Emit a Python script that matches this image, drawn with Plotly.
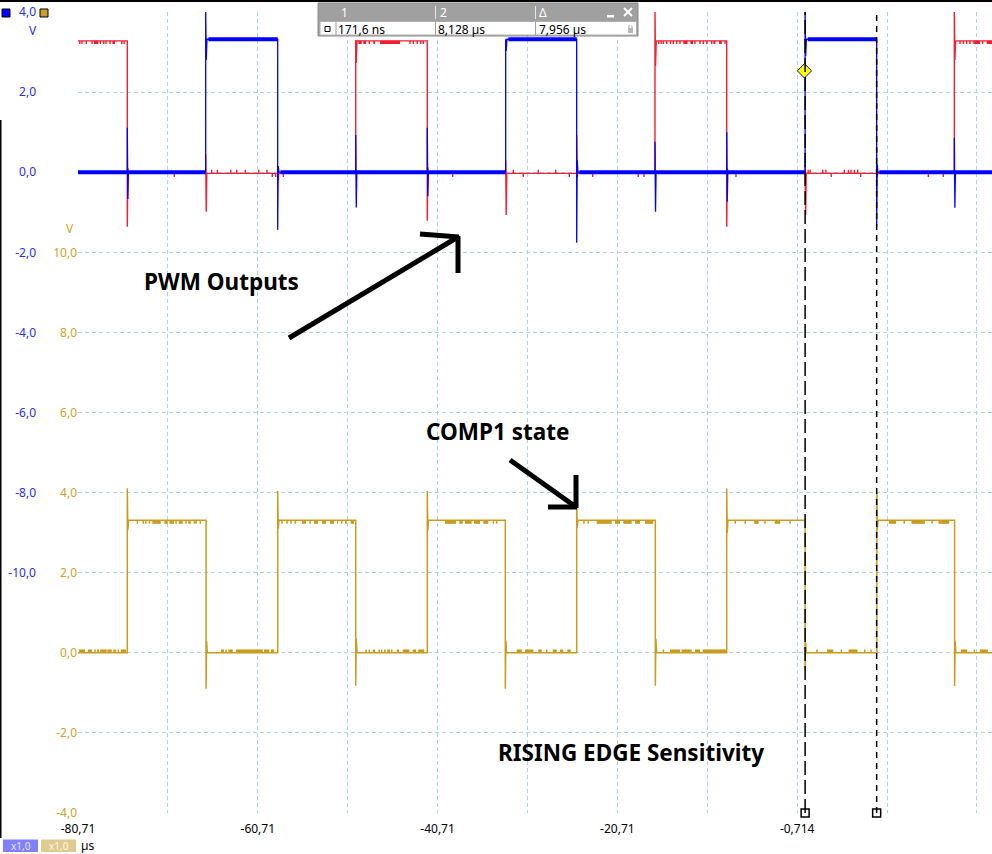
import plotly.graph_objects as go

# ---------------- data (time in µs, voltage in V) ----------------
X_MIN, X_MAX = -80.714, 20.96
X_GRID = [-80.714, -70.714, -60.714, -50.714, -40.714, -30.714, -20.714, -10.714, -0.714, 9.286, 19.286]
X_TEXT = ["-80,71", "", "-60,71", "", "-40,71", "", "-20,71", "", "-0,714", "", "19,29"]

A_TICKS = [4, 2, 0, -2, -4, -6, -8, -10, -12, -14, -16]
A_TEXT = ["4,0", "2,0", "0,0", "-2,0", "-4,0", "-6,0", "-8,0", "-10,0", "", "", ""]
D_TICKS = [10, 8, 6, 4, 2, 0, -2, -4]
D_TEXT = ["10,0", "8,0", "6,0", "4,0", "2,0", "0,0", "-2,0", "-4,0"]

# Channel A (blue PWM)
BLUE_LEVELS = [0.0, 3.32]
BLUE_EDGE_T = [-66.51, -58.50, -33.14, -25.24, 0.17, 8.13]
BLUE_EDGE_PEAK = [4.0, -1.44, 3.32, -1.76, 4.0, -1.36]
BLUE_EDGE_RING = [2.80, 0.15, 3.03, 0.30, 2.90, 0.20]
BLUE_XT_T = [-75.23, -49.82, -41.86, -16.53, -8.55, 16.77]
BLUE_XT_HI = [1.11, 0.93, 1.11, 0.76, 1.00, 0.86]
BLUE_XT_LO = [-0.67, -0.88, -0.60, -0.99, -0.74, -0.89]

# Channel B (red PWM)
RED_LEVELS = [-0.03, 3.28]
RED_EDGE_T = [-75.23, -49.82, -41.86, -16.53, -8.55, 16.77]
RED_EDGE_PEAK = [-1.36, 3.30, -1.21, 4.0, -1.36, 4.0]
RED_EDGE_RING = [0.10, 2.73, 0.12, 2.65, 0.10, 2.80]
RED_XT_T = [-66.51, -58.50, -33.14, -25.24, 0.17, 8.13]
RED_XT_HI = [0.45, 0.10, 0.30, 0.93, 0.15, 0.10]
RED_XT_LO = [-0.99, -0.20, -1.07, -0.12, -1.07, -0.12]
RED_GL_A = [-80.52, -80.27, -79.79, -79.15, -78.96, -78.23, -77.85, -77.60, -77.15, -76.89, -75.85, -75.59,
            -49.53, -48.98, -48.31, -47.86, -47.12, -43.78, -43.41, -42.97, -42.59, -42.30,
            -16.10, -15.85, -15.60, -15.23, -14.80, -14.49, -14.11, -13.75, -13.38, -12.60, -12.08,
            -11.52, -11.15, -10.77, -10.22, -10.04, -9.40, -8.74,
            17.40, 17.77, 18.14, 18.51, 18.88, 19.92, 20.37]
RED_GL_B = [-80.52, -80.27, -79.79, -79.15, -78.45, -78.23, -77.85, -77.60, -77.15, -76.59, -75.85, -75.59,
            -49.15, -48.67, -48.31, -47.67, -44.89, -43.78, -43.41, -42.97, -42.59, -42.30,
            -16.10, -15.85, -15.60, -15.23, -14.80, -14.49, -14.11, -13.75, -12.90, -12.30, -12.08,
            -11.52, -11.15, -10.77, -10.22, -9.80, -9.10, -8.74,
            17.40, 17.77, 18.14, 18.51, 19.62, 19.92, 20.96]
RED_TICK_T = [-70.00, -65.84, -65.21, -63.72, -63.06, -62.10, -60.61, -59.69, -59.10, -58.72, -57.87,
              -39.03, -32.29, -31.18, -29.51, -27.57, -26.06, -23.46, -18.39, -17.75, -7.52,
              0.51, 0.73, 2.13, 2.49, 3.08, 4.53, 4.98, 5.28, 5.65, 6.02, 6.35, 13.88, 15.54]
RED_TICK_V = [-0.12, 0.06, 0.06, 0.06, 0.06, 0.06, 0.06, 0.06, -0.12, -0.12, -0.12,
              -0.12, 0.06, -0.12, 0.06, 0.06, -0.12, -0.12, -0.12, -0.12, -0.12,
              0.06, 0.06, 0.06, 0.06, -0.12, 0.06, 0.06, 0.06, 0.06, 0.06, -0.12, -0.12, -0.12]

# Channel D (gold, COMP1 state)
GOLD_LEVELS = [0.0, 3.31]
GOLD_EDGE_T = [-75.23, -66.47, -58.50, -49.82, -41.86, -33.18, -25.24, -16.49, -8.55, 0.17, 8.15, 16.80]
GOLD_EDGE_PEAK = [4.11, -0.90, 4.04, -0.82, 4.04, -0.90, 3.75, -0.82, 4.10, -0.45, 4.05, -0.83]
GOLD_EDGE_RING = [3.06, 0.30, 3.10, 0.35, 3.05, 0.30, 3.13, 0.35, 3.00, 0.25, 3.08, 0.30]
GOLD_GL_A = [-80.60, -79.60, -78.82, -78.60, -78.26, -77.45, -76.78, -76.23, -75.96,
             -74.11, -73.45, -73.18, -72.78, -72.45, -71.11, -70.55, -69.81, -69.51, -68.70, -68.44, -67.77, -67.58, -67.11,
             -64.80, -64.25, -63.99, -63.13, -60.02, -59.27,
             -58.02, -57.46, -57.02, -56.54, -55.79, -54.90, -54.46, -53.57, -52.68, -51.90, -51.38, -51.01, -50.38,
             -48.67, -48.31, -47.93, -47.20, -46.93, -46.67, -46.31, -45.82, -45.26, -44.59, -43.48, -42.86,
             -39.89, -38.30, -37.66, -36.66, -35.63, -34.51, -34.14,
             -31.91, -30.99, -29.51, -28.57, -27.91, -27.09, -26.28,
             -24.43, -23.95, -23.01, -20.98, -20.05, -18.75, -17.64,
             -15.60, -14.86, -13.56, -12.08, -11.22,
             -7.60, -6.50, -5.50, -4.30, -3.20, -1.50,
             1.50, 2.60, 4.20, 5.00, 6.80, 7.50,
             9.50, 11.20, 12.00, 14.30, 15.00,
             17.50, 19.00, 19.60]
GOLD_GL_B = [-79.93, -79.15, -78.82, -78.37, -77.52, -76.96, -76.48, -76.23, -75.37,
             -74.11, -73.45, -73.18, -72.78, -71.51, -70.73, -70.03, -69.81, -69.06, -68.70, -68.17, -67.77, -67.58, -67.11,
             -64.47, -64.25, -63.50, -60.16, -59.43, -58.91,
             -58.02, -57.46, -57.02, -56.54, -55.35, -54.90, -54.01, -53.12, -52.23, -51.79, -51.38, -50.82, -50.01,
             -48.67, -48.31, -47.67, -47.20, -46.93, -46.48, -46.01, -45.82, -45.00, -43.86, -43.11, -42.19,
             -38.66, -37.92, -36.92, -35.99, -35.07, -34.51, -34.14,
             -31.35, -30.06, -29.13, -28.57, -27.46, -26.73, -25.90,
             -24.43, -23.95, -21.34, -20.42, -19.12, -18.20, -16.72,
             -15.60, -13.75, -12.45, -11.52, -8.63,
             -7.60, -6.50, -5.00, -4.30, -2.60, -1.50,
             1.50, 3.30, 4.20, 6.00, 6.80, 7.50,
             10.30, 11.20, 13.50, 14.30, 16.20,
             18.20, 19.00, 20.50]

CURSOR_T = [0.1716, 8.128]
TRIGGER_T, TRIGGER_V = 0.10, 2.53
CURSOR_TEXT = ["171,6 ns", "8,128 µs", "7,956 µs"]

# ---------------- style ----------------
W, H = 992, 854
PLOT_L, PLOT_T, PLOT_B = 78, 12, 813
FONT = "Noto Sans"
BLUE = "#0000ff"
RED = "#f41e32"
GOLD = "#c99c20"
BLUE_TXT = "#2a2aff"
GOLD_TXT = "#d2a028"
GRID = "#a8d6e4"


def waveform(levels, state0, edge_t, peak, ring, xt_t, xt_hi, xt_lo,
             gl_a, gl_b, gl_d, tick_t=(), tick_v=()):
    """Polyline of a channel plus a separate list of dense-noise bands."""
    ev = []
    for i, t in enumerate(edge_t):
        ev.append((t, 0, i))
    for i, t in enumerate(xt_t):
        ev.append((t, 1, i))
    for i, t in enumerate(gl_a):
        ev.append((t, 2, i))
    for i, t in enumerate(tick_t):
        ev.append((t, 3, i))
    ev.sort()
    state = state0
    cur = levels[state]
    xs, ys = [X_MIN], [cur]
    bxs, bys = [], []
    for t, kind, i in ev:
        if kind == 0:
            state = 1 - state
            new = levels[state]
            xs += [t, t, t + 0.06, t + 0.14]
            ys += [cur, peak[i], ring[i], new]
            cur = new
        elif kind == 1:
            xs += [t, t, t + 0.06, t + 0.12]
            ys += [cur, xt_hi[i], xt_lo[i], cur]
        elif kind == 2:
            g = cur - gl_d[1] if state == 1 else cur + gl_d[0]
            b = gl_b[i]
            if b - t < 0.05:
                xs += [t, t, t]
                ys += [cur, g, cur]
            else:
                mid = (cur + g) / 2
                bxs += [t, b, None]
                bys += [mid, mid, None]
        else:
            xs += [t, t, t]
            ys += [cur, tick_v[i], cur]
    xs.append(X_MAX)
    ys.append(cur)
    return xs, ys, bxs, bys


def flats(levels, state0, edge_t):
    xs, ys = [], []
    state = state0
    start = X_MIN
    for t in edge_t + [X_MAX]:
        xs += [start, t, None]
        ys += [levels[state], levels[state], None]
        state = 1 - state
        start = t + 0.3
    return xs, ys


bx, by, _, _ = waveform(BLUE_LEVELS, 0, BLUE_EDGE_T, BLUE_EDGE_PEAK, BLUE_EDGE_RING,
                        BLUE_XT_T, BLUE_XT_HI, BLUE_XT_LO, [], [], (0, 0))
bfx, bfy = flats(BLUE_LEVELS, 0, BLUE_EDGE_T)
rx, ry, rbx, rby = waveform(RED_LEVELS, 1, RED_EDGE_T, RED_EDGE_PEAK, RED_EDGE_RING,
                            RED_XT_T, RED_XT_HI, RED_XT_LO, RED_GL_A, RED_GL_B, (0.06, 0.08),
                            RED_TICK_T, RED_TICK_V)
gx, gy, gbx, gby = waveform(GOLD_LEVELS, 0, GOLD_EDGE_T, GOLD_EDGE_PEAK, GOLD_EDGE_RING,
                            [], [], [], GOLD_GL_A, GOLD_GL_B, (0.08, 0.09))


def px(x):
    return x / W


def py(y):
    return (PLOT_B - y) / (PLOT_B - PLOT_T)


fig = go.Figure()
fig.add_trace(go.Scatter(x=gx, y=gy, yaxis="y2", mode="lines",
                         line=dict(color=GOLD, width=1.5), hoverinfo="skip"))
fig.add_trace(go.Scatter(x=gbx, y=gby, yaxis="y2", mode="lines",
                         line=dict(color=GOLD, width=3.6), hoverinfo="skip"))
fig.add_trace(go.Scatter(x=rx, y=ry, mode="lines",
                         line=dict(color=RED, width=1.4), hoverinfo="skip"))
fig.add_trace(go.Scatter(x=rbx, y=rby, mode="lines",
                         line=dict(color=RED, width=3.2), hoverinfo="skip"))
fig.add_trace(go.Scatter(x=bx, y=by, mode="lines",
                         line=dict(color=BLUE, width=1.3), hoverinfo="skip"))
fig.add_trace(go.Scatter(x=bfx, y=bfy, mode="lines",
                         line=dict(color=BLUE, width=4), hoverinfo="skip"))
# trigger marker
fig.add_trace(go.Scatter(x=[TRIGGER_T], y=[TRIGGER_V], mode="markers",
                         marker=dict(symbol="diamond", size=11, color="#ffff00",
                                     line=dict(color="#1010a0", width=1)),
                         hoverinfo="skip"))
# cursor handles
fig.add_trace(go.Scatter(x=CURSOR_T, y=[-16, -16], mode="markers", cliponaxis=False,
                         marker=dict(symbol="square", size=8, color="white",
                                     line=dict(color="black", width=1.5)),
                         hoverinfo="skip"))

shapes = []
# cursors
shapes.append(dict(type="line", xref="x", yref="paper", x0=CURSOR_T[0], x1=CURSOR_T[0],
                   y0=0, y1=1, line=dict(color="black", width=1.5, dash="14px,5px"), layer="above"))
shapes.append(dict(type="line", xref="x", yref="paper", x0=CURSOR_T[1], x1=CURSOR_T[1],
                   y0=0, y1=1, line=dict(color="black", width=1.5, dash="6px,5px"), layer="above"))


def rect(x0, y0, x1, y1, fill, line=None, lw=0):
    shapes.append(dict(type="rect", xref="paper", yref="paper", x0=px(x0), x1=px(x1),
                       y0=py(y1), y1=py(y0), fillcolor=fill,
                       line=dict(color=line or fill, width=lw), layer="above"))


def seg(x0, y0, x1, y1, color="black", w=5):
    shapes.append(dict(type="line", xref="paper", yref="paper", x0=px(x0), x1=px(x1),
                       y0=py(y0), y1=py(y1), line=dict(color=color, width=w), layer="above"))


# window borders
rect(0, 0, W, 2, "black")
rect(0, 120, 1.5, 838, "black")
# channel squares
rect(2, 9, 10, 17, BLUE, "black", 1)
rect(40, 9, 48, 17, "#c8a030", "black", 1)
# cursor table
rect(318, 3, 638, 36, "#a0a0a0", "#8a8a8a", 1)
rect(320, 21.5, 636.5, 35, "white", "#b0b0b0", 1)
seg(336, 21.5, 336, 35, "#a0a0a0", 1)
seg(435.5, 21.5, 435.5, 35, "#a0a0a0", 1)
seg(535.5, 21.5, 535.5, 35, "#a0a0a0", 1)
seg(435.5, 6, 435.5, 19, "#e8e8e8", 1)
seg(535.5, 6, 535.5, 19, "#e8e8e8", 1)
rect(325, 26.5, 330, 31.5, "white", "black", 1)
rect(607, 15, 614, 17.5, "white")
seg(624, 8, 632, 16, "white", 2)
seg(624, 16, 632, 8, "white", 2)
rect(628, 28, 633, 33, "#b8b8b8")
seg(629, 28, 629, 25, "#b8b8b8", 1.2)
seg(632, 28, 632, 25.5, "#b8b8b8", 1.2)
# bottom channel scale boxes
rect(3, 839.5, 38, 852, "#8080ff")
rect(41, 839.5, 76, 852, "#dfcb8f")
# arrows
seg(289, 338, 458, 237)
seg(420, 234, 459, 237)
seg(458, 236, 458, 273)
seg(510, 460, 576, 507)
seg(548, 507, 577, 507)
seg(576, 508, 576, 475)

anns = []


def text(x, y, s, size=12, color="black", bold=False, xanchor="left"):
    anns.append(dict(x=px(x), y=py(y), xref="paper", yref="paper", text=f"<b>{s}</b>" if bold else s,
                     showarrow=False, xanchor=xanchor, yanchor="middle", borderpad=0,
                     font=dict(family=FONT, size=size, color=color)))


text(33, 30, "V", 12, BLUE_TXT, xanchor="center")
text(70, 228, "V", 12, GOLD_TXT, xanchor="center")
text(143, 281, "PWM Outputs", 22.5, bold=True)
text(425, 432, "COMP1 state", 22.5, bold=True)
text(497, 752, "RISING EDGE Sensitivity", 22.5, bold=True)
text(340, 12.5, "1", 12, "white")
text(439, 12.5, "2", 12, "white")
text(538, 12.5, "Δ", 12, "white")
text(337, 29, CURSOR_TEXT[0], 12)
text(437, 29, CURSOR_TEXT[1], 12)
text(538, 29, CURSOR_TEXT[2], 12)
text(20.5, 845.5, "x1,0", 10, "#e8e8ff", xanchor="center")
text(58.5, 845.5, "x1,0", 10, "#fbf6e6", xanchor="center")
text(80, 845.5, "µs", 12)

fig.update_layout(
    width=W, height=H,
    margin=dict(l=0, r=0, t=PLOT_T, b=H - PLOT_B, pad=0),
    paper_bgcolor="white", plot_bgcolor="white", showlegend=False,
    shapes=shapes, annotations=anns,
    xaxis=dict(domain=[PLOT_L / W, 1], range=[X_MIN, X_MAX], tickvals=X_GRID, ticktext=X_TEXT,
               showgrid=True, gridcolor=GRID, griddash="4px,3px", gridwidth=1,
               zeroline=False, showline=False, ticks="", automargin=False,
               ticklabelstandoff=7,
               tickfont=dict(family=FONT, size=12, color="black")),
    yaxis=dict(range=[-16, 4], tickvals=A_TICKS, ticktext=A_TEXT, anchor="free", position=36 / W,
               showgrid=True, gridcolor=GRID, griddash="4px,3px", gridwidth=1,
               zeroline=False, showline=False, ticks="", automargin=False,
               tickfont=dict(family=FONT, size=12, color=BLUE_TXT)),
    yaxis2=dict(range=[-4, 16], tickvals=D_TICKS, ticktext=D_TEXT, overlaying="y", anchor="x",
                side="left", showgrid=False, zeroline=False, showline=False, ticks="",
                automargin=False, tickfont=dict(family=FONT, size=12, color=GOLD_TXT)),
)

fig.write_html("out.html", config={"displayModeBar": False},
               post_script="document.body.style.margin='0';document.body.style.overflow='hidden';")
